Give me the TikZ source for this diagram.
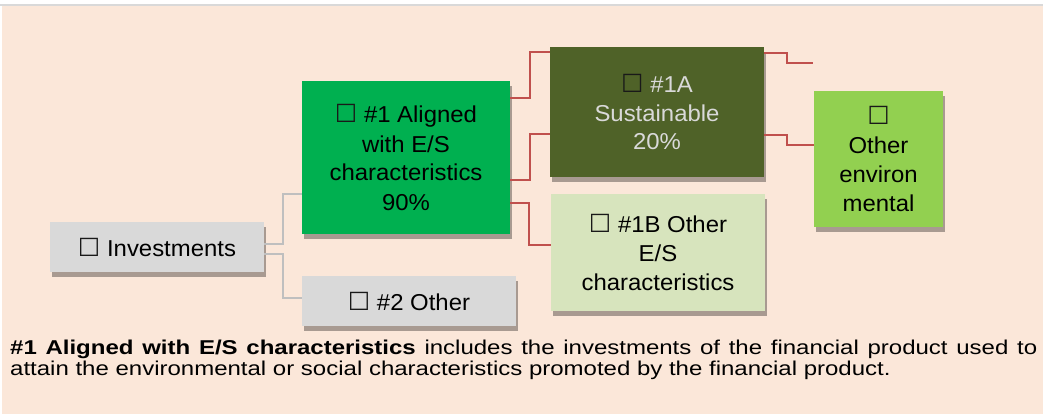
\documentclass[tikz,border=0pt]{standalone}
\usepackage{fontspec}
\setmainfont{Liberation Sans}[FakeStretch=1.04]
\newfontfamily\notefont{Liberation Sans}[FakeStretch=1.2]
\newfontfamily\boxfont{DejaVu Sans}
\usepackage{tikz}
\usetikzlibrary{positioning,shadows}

\definecolor{peach}{HTML}{FBE7D9}
\definecolor{greybox}{HTML}{D9D9D9}
\definecolor{greenbox}{HTML}{00B050}
\definecolor{olivebox}{HTML}{4F6228}
\definecolor{palebox}{HTML}{D7E4BD}
\definecolor{limebox}{HTML}{92D050}
\definecolor{redline}{HTML}{C0504D}
\definecolor{greyline}{HTML}{BFBFBF}

\newcommand{\tick}{{\color{black!90}\boxfont\fontsize{25}{25}\selectfont ☐}}

\begin{document}
\begin{tikzpicture}[
  x=1pt, y=-1pt,
  box/.style={rectangle, inner sep=0pt, align=center, font=\fontsize{23}{29}\selectfont,
    drop shadow={shadow xshift=2pt, shadow yshift=-5pt, fill=black, opacity=0.33}},
  link/.style={line width=2pt, greyline},
  redlink/.style={line width=2pt, redline}
]
\useasboundingbox (0,0) rectangle (1043,414);
% background panel
\fill[peach] (2,6) rectangle (1043,414);
\fill[greybox] (0,4) rectangle (1043,6);

% first level
\node[box, fill=greybox, minimum width=214pt, minimum height=50pt] (inv) at (157,247) {\tick\ Investments};
% second level
\node[box, fill=greenbox, minimum width=208pt, minimum height=153pt] (al) at (406,157.5) {\tick\ \#1 Aligned\\with E/S\\characteristics\\90\%};
\node[box, fill=greybox, minimum width=214pt, minimum height=50pt] (oth) at (409,301) {\tick\ \#2 Other};
% third level
\node[box, fill=olivebox, text=greybox, minimum width=214pt, minimum height=130pt] (sus) at (657,112) {\tick\ \#1A\\Sustainable\\20\%};
\node[box, fill=palebox, minimum width=214pt, minimum height=117pt] (oes) at (658,252.5) {\tick\ \#1B Other\\E/S\\characteristics};
\node[box, fill=limebox, minimum width=129pt, minimum height=136pt] (env) at (878.5,159) {\tick\\Other\\environ\\mental};
\coordinate (stub) at (813,63);

\draw[link] ([yshift=3pt]inv.east) -- ++(19,0) |- ([yshift=-36.5pt]al.west);
\draw[link] ([yshift=-7pt]inv.east) -- ++(19,0) |- ([yshift=3pt]oth.west);
\draw[redlink] ([yshift=59.5pt]al.east) -- ++(20,0) |- ([yshift=60pt]sus.west);
\draw[redlink] ([yshift=-22.5pt]al.east) -- ++(20,0) |- ([yshift=-22pt]sus.west);
\draw[redlink] ([yshift=-45.5pt]al.east) -- ++(19,0) |- ([yshift=7.5pt]oes.west);
\draw[redlink] ([yshift=59pt]sus.east) -- ++(23,0) |- (stub);
\draw[redlink] ([yshift=-23pt]sus.east) -- ++(23,0) |- ([yshift=14pt]env.west);

% caption
\node[anchor=base west, inner sep=0pt, text width=1027pt, align=justify,
  font=\notefont\fontsize{20}{21}\selectfont] (note) at (10,354)
  {\textbf{\#1 Aligned with E/S characteristics} includes the investments of the financial product used to attain the environmental or social characteristics promoted by the financial product.};
\end{tikzpicture}
\end{document}
